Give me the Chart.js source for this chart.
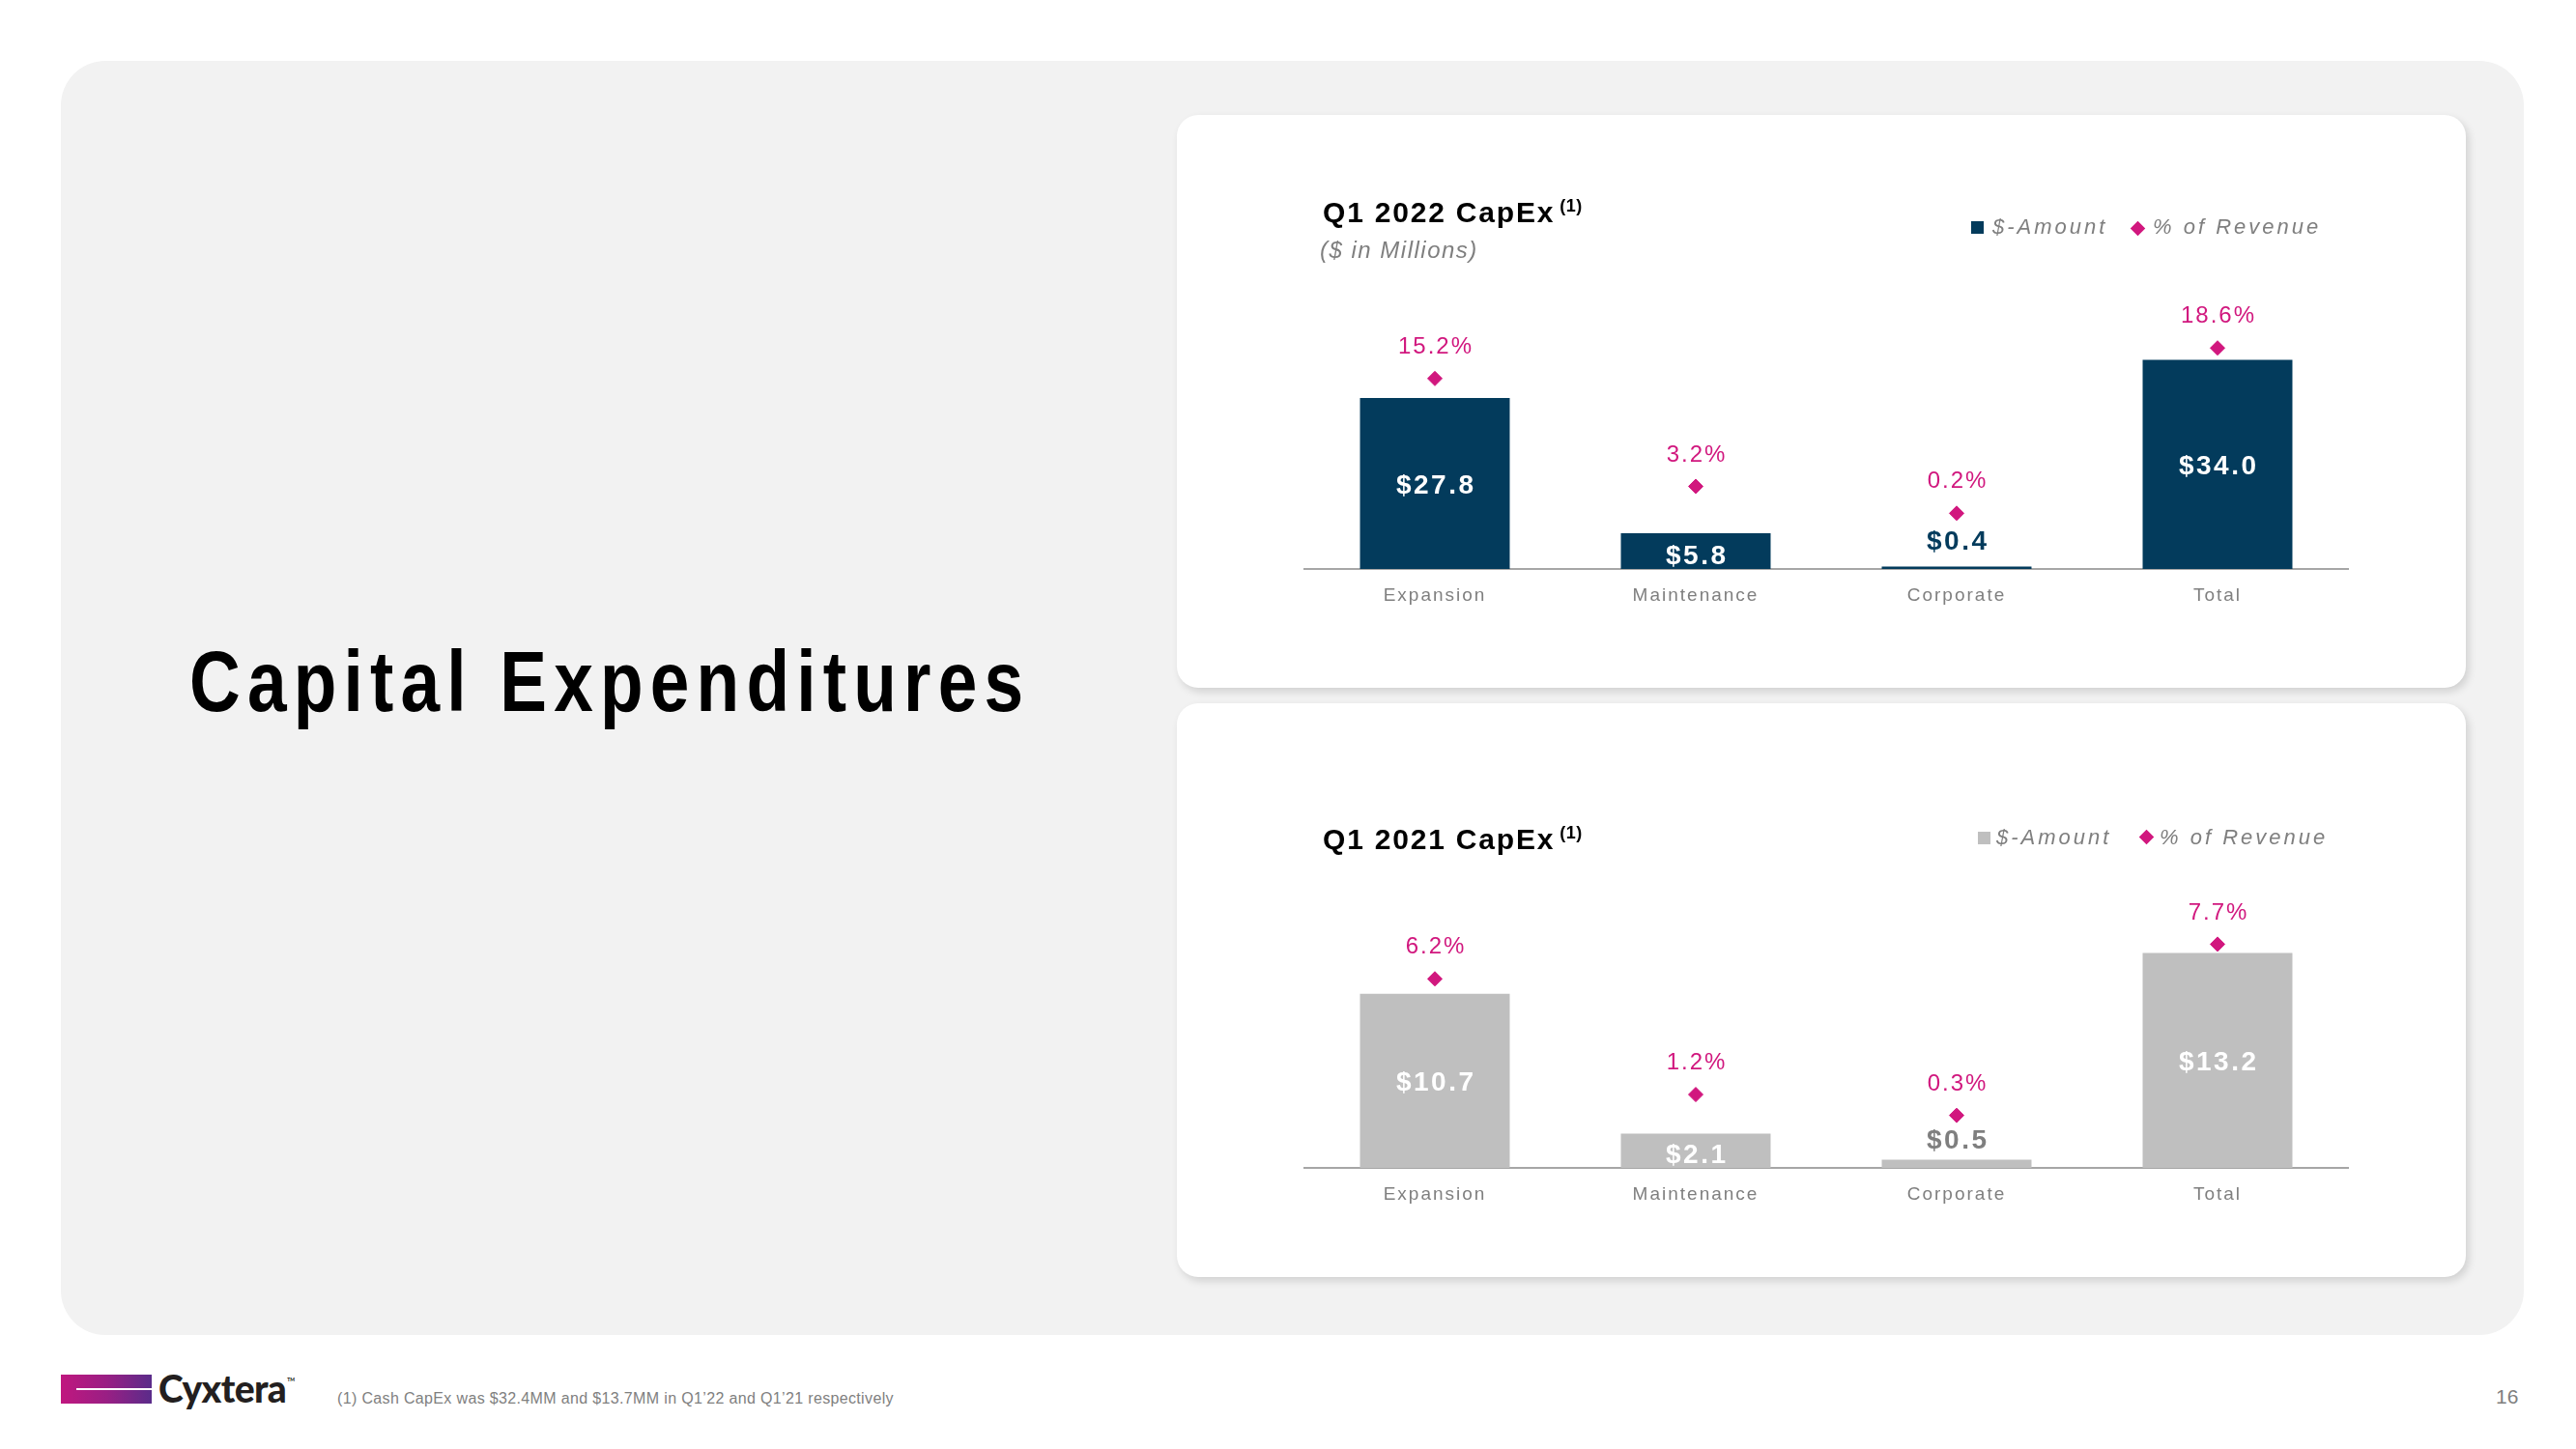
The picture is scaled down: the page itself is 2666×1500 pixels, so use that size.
<!DOCTYPE html>
<html><head><meta charset="utf-8">
<script src="https://cdn.jsdelivr.net/npm/chart.js@4.4.0/dist/chart.umd.min.js"></script>
<style>
html,body{margin:0;padding:0;background:#fff;width:2666px;height:1500px;overflow:hidden;
  font-family:"Liberation Sans",Arial,sans-serif;}
.abs{position:absolute;white-space:nowrap;line-height:1;}
#panel{position:absolute;left:63px;top:63px;width:2549px;height:1319px;background:#f2f2f2;border-radius:46px;}
.card{position:absolute;left:1218px;width:1334px;background:#fff;border-radius:22px;box-shadow:3px 4px 9px rgba(0,0,0,0.14);}
.card canvas{position:absolute;left:0;top:0;}
.ctitle{font-weight:bold;font-size:30px;color:#000;letter-spacing:1.8px;}
.sup{font-size:18px;position:relative;top:-11px;margin-left:5px;letter-spacing:0.5px;}
.sub{font-style:italic;font-size:24px;color:#7f7f7f;letter-spacing:1.5px;}
.leg{font-style:italic;font-size:22px;color:#7f7f7f;letter-spacing:3px;}
.sq{position:absolute;width:13px;height:13px;}
.dm{position:absolute;width:11px;height:11px;background:#d1177e;transform:rotate(45deg);}
</style></head>
<body>
<div id="panel"></div>
<div class="abs" style="left:196px;top:661px;font-size:89px;font-weight:bold;color:#000;letter-spacing:8.8px;transform:scaleX(0.82);transform-origin:0 0;">Capital Expenditures</div>

<div class="card" id="card1" style="top:119px;height:593px;">
  <canvas id="c1" width="1334" height="593"></canvas>
</div>
<div class="card" id="card2" style="top:728px;height:594px;">
  <canvas id="c2" width="1334" height="594"></canvas>
</div>

<!-- top chart header -->
<div class="abs ctitle" style="left:1369px;top:204.6px;">Q1 2022 CapEx<span class="sup">(1)</span></div>
<div class="abs sub" style="left:1366px;top:246.7px;">($ in Millions)</div>
<div class="sq" style="left:2040px;top:229px;background:#033b5c;"></div>
<div class="abs leg" style="left:2062px;top:224.4px;">$-Amount</div>
<div class="dm" style="left:2206.5px;top:230.5px;"></div>
<div class="abs leg" style="left:2228px;top:224.4px;">% of Revenue</div>

<!-- bottom chart header -->
<div class="abs ctitle" style="left:1369px;top:853.6px;">Q1 2021 CapEx<span class="sup">(1)</span></div>
<div class="sq" style="left:2047px;top:861px;background:#bfbfbf;"></div>
<div class="abs leg" style="left:2066px;top:855.9px;">$-Amount</div>
<div class="dm" style="left:2215.5px;top:860.5px;"></div>
<div class="abs leg" style="left:2235px;top:855.9px;">% of Revenue</div>

<!-- footer -->
<div style="position:absolute;left:63px;top:1423px;width:94px;height:30px;background:linear-gradient(90deg,#c0177f 0%,#9a1f84 50%,#5a2c8a 100%);"></div>
<div style="position:absolute;left:79px;top:1437px;width:78px;height:2px;background:#fff;"></div>
<div class="abs" style="left:164px;top:1418px;font-family:Lato,'Open Sans',sans-serif;font-weight:900;font-size:39px;color:#231f20;letter-spacing:-0.6px;">Cyxtera<span style="font-size:5px;position:relative;top:-22px;letter-spacing:0;margin-left:1px;">TM</span></div>
<div class="abs" style="left:349px;top:1439.5px;font-size:16px;color:#808080;letter-spacing:0.35px;">(1) Cash CapEx was $32.4MM and $13.7MM in Q1’22 and Q1’21 respectively</div>
<div class="abs" style="left:2583px;top:1435px;font-size:21px;color:#7f7f7f;">16</div>

<script>
// ---- data ----
const categories = ['Expansion', 'Maintenance', 'Corporate', 'Total'];
const amount2022 = [27.8, 5.8, 0.4, 34.0];
const pctRevenue2022 = [15.2, 3.2, 0.2, 18.6];
const amount2021 = [10.7, 2.1, 0.5, 13.2];
const pctRevenue2021 = [6.2, 1.2, 0.3, 7.7];

const FONT = '"Liberation Sans",Arial,sans-serif';
const MAGENTA = '#d1177e';

const labelPlugin = {
  id: 'valueLabels',
  beforeDraw(chart) { chart.ctx.letterSpacing = '2px'; },
  afterDatasetsDraw(chart, args, o) {
    const ctx = chart.ctx;
    const bars = chart.getDatasetMeta(0).data;
    const pts = chart.getDatasetMeta(1).data;
    ctx.save();
    ctx.textAlign = 'center';
    ctx.textBaseline = 'middle';
    ctx.letterSpacing = '2.5px';
    ctx.font = 'bold 28px ' + FONT;
    bars.forEach((bar, i) => {
      const v = chart.data.datasets[0].data[i];
      const h = bar.base - bar.y;
      const mid = (bar.y + bar.base) / 2 + 2.5;
      let y, color;
      if (h < 20) { y = bar.base - 28; color = o.smallColor; }
      else if (h < 45) { y = Math.max(mid, bar.base - 13); color = '#ffffff'; }
      else { y = mid; color = '#ffffff'; }
      ctx.fillStyle = color;
      ctx.fillText('$' + v.toFixed(1), bar.x + 1.25, y);
    });
    ctx.letterSpacing = '2px';
    ctx.font = '24px ' + FONT;
    ctx.fillStyle = MAGENTA;
    pts.forEach((pt, i) => {
      const v = chart.data.datasets[1].data[i];
      ctx.fillText(v.toFixed(1) + '%', pt.x + 1, pt.y - 32.5);
    });
    ctx.restore();
  }
};

function makeChart(id, amounts, pcts, cfg) {
  return new Chart(document.getElementById(id), {
    type: 'bar',
    data: {
      labels: categories,
      datasets: [
        { type: 'bar', label: '$-Amount', data: amounts, backgroundColor: cfg.barColor,
          yAxisID: 'y', barPercentage: 0.574, categoryPercentage: 1.0, order: 2 },
        { type: 'line', label: '% of Revenue', data: pcts, yAxisID: 'y2', showLine: false,
          pointStyle: 'rectRot', pointRadius: 7.5, pointBorderWidth: 1,
          pointBackgroundColor: MAGENTA, pointBorderColor: MAGENTA, order: 1 }
      ]
    },
    options: {
      responsive: false,
      animation: false,
      layout: { padding: { left: 132, right: 122, top: cfg.padTop, bottom: cfg.padBottom } },
      plugins: { legend: { display: false }, tooltip: { enabled: false }, valueLabels: { smallColor: cfg.smallColor } },
      scales: {
        x: {
          grid: { display: false, drawTicks: false },
          border: { display: true, color: '#a6a6a6', width: 2 },
          ticks: { color: '#7f7f7f', font: { family: FONT, size: 19 }, padding: 16 },
          afterFit(s) { s.height = 50; }
        },
        y: { display: false, min: 0, max: cfg.yMax },
        y2: { display: false, position: 'right', min: cfg.y2Min, max: cfg.y2Max }
      }
    },
    plugins: [labelPlugin]
  });
}

makeChart('c1', amount2022, pctRevenue2022, {
  barColor: '#033b5c', smallColor: '#033b5c',
  padTop: 150, padBottom: 73, yMax: 50.24, y2Min: -6.0, y2Max: 28.41
});
makeChart('c2', amount2021, pctRevenue2021, {
  barColor: '#bfbfbf', smallColor: '#7f7f7f',
  padTop: 161, padBottom: 63, yMax: 18.99, y2Min: -1.97, y2Max: 11.39
});
</script>
</body></html>
